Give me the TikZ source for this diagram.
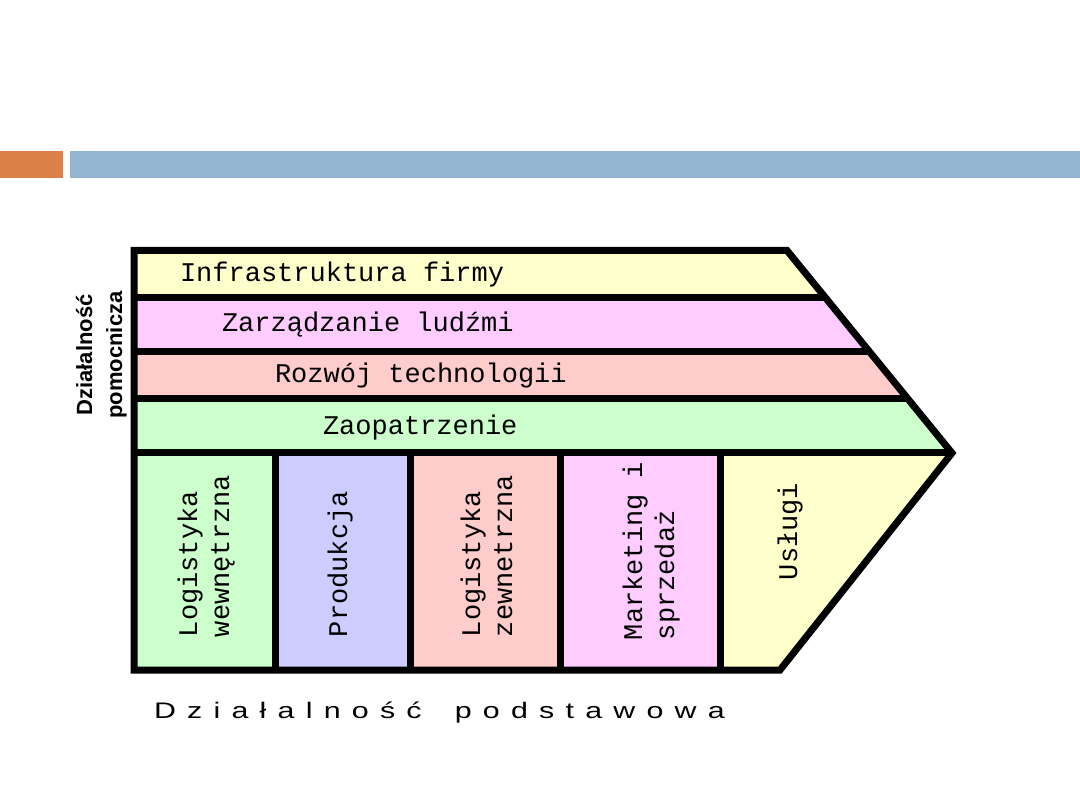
\documentclass[tikz,border=0pt]{standalone}
\usepackage{fontspec}
\newfontfamily\monofont{Liberation Mono}
\newfontfamily\sidefont{Liberation Sans}
\newfontfamily\spacedfont[LetterSpace=37]{Liberation Sans}
\definecolor{cyellow}{HTML}{FFFFCC}
\definecolor{cpink}{HTML}{FFCCFF}
\definecolor{csalmon}{HTML}{FFCCCC}
\definecolor{cgreen}{HTML}{CCFFCC}
\definecolor{cblue}{HTML}{CCCCFF}
\definecolor{barorange}{HTML}{DD8047}
\definecolor{barblue}{HTML}{94B6D2}
\tikzset{
  lbl/.style={font=\monofont\fontsize{27}{32}\selectfont, inner sep=0pt, outer sep=0pt, anchor=base west},
  vlbl/.style={lbl, rotate=90},
  sidelbl/.style={font=\sidefont\bfseries\fontsize{22}{28}\selectfont, inner sep=0pt, outer sep=0pt, anchor=base, rotate=90},
  thick line/.style={line width=7pt, black},
}
\begin{document}
\begin{tikzpicture}[x=1pt,y=-1pt]
\useasboundingbox (0,0) rectangle (1080,810);
% header bars
\fill[barorange] (0,151) rectangle (63,178);
\fill[barblue] (70,151) rectangle (1080,178);
% key points
\coordinate (TL) at (134,250.5);
\coordinate (TR) at (787,250.5);
\coordinate (TIP) at (952,453);
\coordinate (BR) at (780,670);
\coordinate (BL) at (134,670);
\coordinate (L1) at (134,298);   \coordinate (R1) at (825.4,298);
\coordinate (L2) at (134,352);   \coordinate (R2) at (869.5,352);
\coordinate (L3) at (134,399);   \coordinate (R3) at (907.9,399);
\coordinate (L4) at (134,453);
\coordinate (V1t) at (275,453);  \coordinate (V1b) at (275,670);
\coordinate (V2t) at (410,453);  \coordinate (V2b) at (410,670);
\coordinate (V3t) at (560,453);  \coordinate (V3b) at (560,670);
\coordinate (V4t) at (720,453);  \coordinate (V4b) at (720,670);
% fills
\fill[cyellow] (TL) -- (TR) -- (R1) -- (L1) -- cycle;
\fill[cpink] (L1) -- (R1) -- (R2) -- (L2) -- cycle;
\fill[csalmon] (L2) -- (R2) -- (R3) -- (L3) -- cycle;
\fill[cgreen] (L3) -- (R3) -- (TIP) -- (L4) -- cycle;
\fill[cgreen] (L4) rectangle (V1b);
\fill[cblue] (V1t) rectangle (V2b);
\fill[csalmon] (V2t) rectangle (V3b);
\fill[cpink] (V3t) rectangle (V4b);
\fill[cyellow] (V4t) -- (TIP) -- (BR) -- (V4b) -- cycle;
% lines
\draw[thick line] (L1) -- (R1);
\draw[thick line] (L2) -- (R2);
\draw[thick line] (L3) -- (R3);
\draw[thick line] (L4) -- (TIP);
\draw[thick line] (V1t) -- (V1b);
\draw[thick line] (V2t) -- (V2b);
\draw[thick line] (V3t) -- (V3b);
\draw[thick line] (V4t) -- (V4b);
\draw[thick line, line join=miter] (TL) -- (TR) -- (TIP) -- (BR) -- (BL) -- cycle;
% band labels
\node[lbl] (infra) at (180,282) {Infrastruktura firmy};
\node[lbl] (hr) at (222,332) {Zarządzanie ludźmi};
\node[lbl] (tech) at (275,383) {Rozwój technologii};
\node[lbl] (zaop) at (323,435) {Zaopatrzenie};
% column labels
\node[vlbl] (logw1) at (197,637) {Logistyka};
\node[vlbl] (logw2) at (229,637) {wewnętrzna};
\node[vlbl] (prod) at (347,637) {Produkcja};
\node[vlbl] (logz1) at (480,637) {Logistyka};
\node[vlbl] (logz2) at (512,637) {zewnetrzna};
\node[vlbl] (mark1) at (642,640) {Marketing i};
\node[vlbl] (mark2) at (674,640) {sprzedaż};
\node[vlbl] (usl) at (797,580) {Usługi};
% side labels
\node[sidelbl] (side1) at (92,355) {Działalność};
\node[sidelbl] (side2) at (122,355) {pomocnicza};
% bottom label
\node[font=\spacedfont\fontsize{22.5}{26}\selectfont, xscale=1.35, inner sep=0pt, outer sep=0pt, anchor=base west] (podst) at (154,718) {Działalność\hspace{10pt} podstawowa};
\end{tikzpicture}
\end{document}
